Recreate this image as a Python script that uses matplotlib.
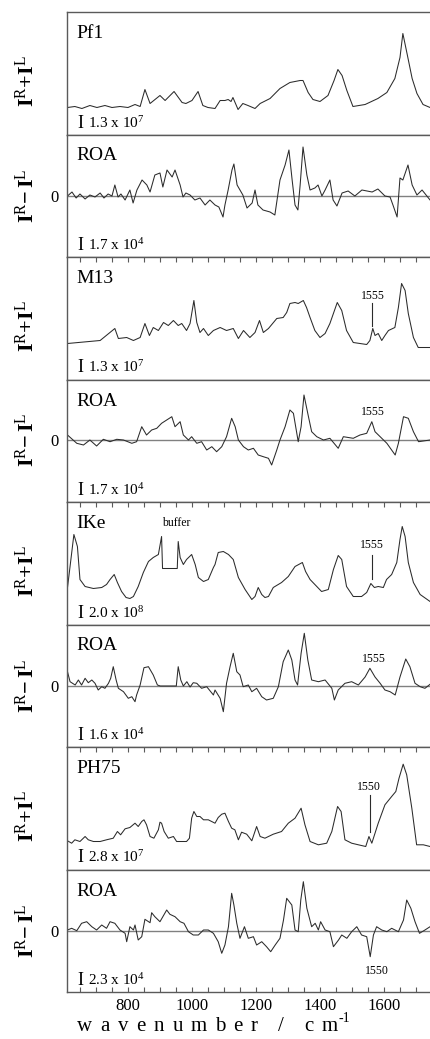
import matplotlib
matplotlib.use('Agg')
import matplotlib.pyplot as plt
from matplotlib.ticker import MultipleLocator, FixedLocator
import matplotlib.transforms as mtrans

plt.rcParams['font.family'] = ['Liberation Serif', 'DejaVu Serif']
plt.rcParams['mathtext.fontset'] = 'custom'
plt.rcParams['mathtext.rm'] = 'Liberation Serif'
plt.rcParams['mathtext.it'] = 'Liberation Serif:italic'
plt.rcParams['mathtext.bf'] = 'Liberation Serif:bold'

# ---------------- data (wavenumber / cm-1, arbitrary intensity) ----------------
pf1_raman_wn = [610, 633, 655, 680, 702, 727, 749, 774, 799, 821, 837, 852, 868, 899, 915, 943, 968,
                980, 999, 1018, 1033, 1049, 1071, 1087, 1102, 1112, 1121, 1127, 1143, 1158, 1174, 1196,
                1212, 1243, 1274, 1305, 1337, 1346, 1362, 1377, 1399, 1424, 1443, 1455, 1468, 1483,
                1502, 1540, 1580, 1608, 1633, 1649, 1658, 1671, 1687, 1702, 1721, 1743]
pf1_raman_int = [27, 28, 26, 29, 27, 29, 27, 28, 27, 30, 28, 45, 31, 39, 34, 43, 32,
                 31, 34, 43, 29, 27, 26, 34, 34, 35, 33, 37, 25, 31, 29, 26,
                 31, 36, 46, 52, 54, 54, 42, 35, 33, 39, 54, 65, 59, 44,
                 28, 30, 36, 42, 56, 77, 101, 81, 56, 41, 30, 27]

pf1_roa_wn = [610, 624, 637, 649, 665, 680, 696, 712, 724, 737, 749, 758, 768, 777, 790, 805, 815,
              827, 843, 858, 868, 883, 899, 908, 921, 937, 946, 962, 971, 980, 993, 1008, 1024,
              1040, 1055, 1071, 1083, 1096, 1102, 1112, 1124, 1130, 1140, 1149, 1158, 1171, 1187,
              1196, 1205, 1221, 1243, 1258, 1274, 1290, 1302, 1312, 1321, 1330, 1337, 1346, 1358,
              1368, 1383, 1393, 1405, 1415, 1430, 1440, 1452, 1468, 1487, 1508, 1530, 1562, 1580,
              1602, 1618, 1627, 1640, 1649, 1658, 1674, 1687, 1702, 1718, 1733, 1743]
pf1_roa_int = [0, 4, -2, 2, -3, 1, -1, 3, -2, 2, 0, 11, -1, 2, -4, 6, -7,
               6, 16, 11, 4, 21, 23, 9, 26, 19, 26, 11, -1, 3, 1, -4, -2,
               -9, -4, -9, -11, -21, -9, 6, 26, 32, 11, 6, 1, -12, -7,
               6, -9, -14, -16, -19, 16, 31, 46, 16, -9, -14, 11, 49, 21,
               6, 8, 11, 0, 6, 16, -4, -10, 3, 5, 0, 6, 4, 7,
               0, -1, -9, -21, 18, 16, 31, 11, 1, 6, 0, -4]

m13_raman_wn = [610, 712, 758, 769, 795, 816, 837, 852, 866, 878, 894, 910, 925, 941, 956, 967, 982,
                993, 1005, 1014, 1024, 1035, 1050, 1066, 1087, 1107, 1128, 1144, 1160, 1180, 1196,
                1210, 1222, 1238, 1264, 1284, 1295, 1305, 1321, 1331, 1347, 1357, 1368, 1383, 1399,
                1415, 1430, 1453, 1467, 1482, 1503, 1524, 1545, 1555, 1564, 1571, 1581, 1592, 1602,
                1613, 1633, 1644, 1654, 1665, 1675, 1691, 1706, 1743]
m13_raman_int = [36, 39, 51, 41, 42, 39, 42, 56, 44, 52, 49, 57, 54, 59, 54, 56, 49,
                 56, 79, 57, 47, 51, 44, 49, 52, 49, 51, 41, 49, 42, 47,
                 59, 47, 51, 61, 62, 67, 76, 77, 76, 79, 72, 62, 49, 42,
                 46, 56, 77, 69, 49, 37, 36, 35, 39, 51, 44, 46, 39, 44,
                 49, 52, 72, 96, 89, 66, 42, 32, 32]

m13_roa_wn = [610, 639, 660, 680, 701, 722, 743, 764, 785, 811, 826, 842, 857, 873, 889, 904, 920,
              936, 946, 962, 972, 988, 998, 1014, 1029, 1045, 1061, 1076, 1092, 1107, 1123, 1134,
              1144, 1160, 1175, 1191, 1206, 1222, 1238, 1248, 1264, 1274, 1290, 1305, 1316, 1331,
              1340, 1349, 1363, 1373, 1389, 1410, 1430, 1456, 1472, 1503, 1524, 1545, 1561, 1571,
              1587, 1608, 1634, 1644, 1660, 1675, 1691, 1707, 1743]
m13_roa_int = [5, -3.3, -5, 0, -6, 0.7, -1.7, 0.7, 0, -3.3, -1.7, 13.3, 5, 10, 11.7, 16.7, 20,
               23.3, 13.3, 18.3, 5, 0, 3.3, -3.3, -1.7, -10, -6.7, -11.7, -6.7, 3.3, 21.7, 13.3,
               0, -6.7, -10, -8.3, -15, -16.7, -18.3, -25, -10, 0, 13.3, 30, 26.7, -1.7,
               13.3, 45, 23.3, 8.3, 3.3, 0, 1.7, -8.3, 3.3, 1.7, 5, 6.7, 18.3, 8.3,
               3.3, -3.3, -15, -3.3, 23.3, 21.7, 8.3, -1.7, 0]

ike_raman_wn = [610, 618, 630, 641, 649, 665, 691, 717, 732, 743, 756, 766, 779, 793, 805, 816, 831,
                847, 863, 878, 894, 904, 907, 953, 956, 962, 972, 982, 998, 1009, 1019, 1035, 1050,
                1066, 1071, 1081, 1097, 1113, 1128, 1144, 1165, 1186, 1196, 1206, 1217, 1227, 1238,
                1253, 1279, 1300, 1321, 1344, 1354, 1368, 1383, 1404, 1425, 1441, 1456, 1467, 1482,
                1503, 1529, 1545, 1558, 1569, 1581, 1597, 1607, 1623, 1639, 1649, 1656, 1665, 1675,
                1691, 1712, 1743]
ike_raman_int = [37, 58, 90, 78, 45, 38, 36, 37, 40, 45, 50, 42, 33, 27, 26, 28, 38,
                 52, 63, 67, 70, 88, 56, 56, 83, 67, 60, 65, 70, 60, 47, 43, 45,
                 57, 60, 72, 73, 70, 65, 47, 35, 25, 28, 37, 30, 27, 28,
                 37, 42, 48, 58, 62, 53, 45, 40, 33, 35, 55, 69, 65, 38,
                 28, 28, 32, 41, 37, 38, 37, 45, 50, 62, 85, 98, 88, 62,
                 42, 30, 23]

ike_roa_wn = [610, 618, 634, 644, 654, 665, 675, 686, 696, 706, 717, 727, 738, 745, 753, 762, 769,
              785, 800, 811, 821, 826, 837, 849, 863, 878, 891, 900, 950, 956, 964, 972, 983, 993,
              1003, 1014, 1029, 1045, 1066, 1071, 1087, 1097, 1107, 1118, 1128, 1139, 1149, 1159,
              1175, 1186, 1201, 1217, 1232, 1253, 1269, 1284, 1300, 1311, 1321, 1329, 1340, 1350,
              1361, 1373, 1394, 1415, 1436, 1444, 1456, 1477, 1498, 1519, 1540, 1555, 1571, 1587,
              1602, 1618, 1634, 1649, 1667, 1680, 1696, 1712, 1727, 1743]
ike_roa_int = [14.3, 4.3, 1, 6, 1, 7.7, 3.3, 6, 2.7, -4, -0.7, -2.3, 2.7, 7.7, 19.3, 6, -2.3,
               -5.7, -12.3, -10.7, -15.7, -9, 1, 18.3, 19.3, 11, 1, 0, 0, 19.3, 6, 0, 4.3, -1,
               3.3, 2.7, -2.3, -0.7, -9, -4, -12.3, -25.7, 2.7, 19.3, 32.7, 14.3, 11, -0.7,
               1, -5.7, -2.3, -10.7, -14, -12.3, -0.7, 24.3, 36, 26, 6, 1, 32.7, 52.7,
               26, 6, 4.3, 6, -2.3, -14, -4, 2.7, 4.3, 1, 9, 17.7, 9, 2.7,
               -4, -5.7, -9, 9, 27, 19.3, 2.7, -0.7, -2.3, 1.7]

ph75_raman_wn = [610, 623, 633, 649, 665, 675, 691, 712, 732, 753, 766, 776, 790, 805, 821, 831, 842,
                 849, 857, 868, 880, 894, 899, 904, 912, 925, 941, 951, 967, 982, 991, 998, 1005,
                 1014, 1024, 1035, 1050, 1071, 1081, 1092, 1102, 1113, 1123, 1133, 1144, 1154, 1170,
                 1186, 1201, 1212, 1227, 1253, 1279, 1300, 1321, 1340, 1352, 1368, 1394, 1420, 1436,
                 1454, 1465, 1477, 1498, 1519, 1542, 1552, 1561, 1571, 1581, 1602, 1623, 1636, 1646,
                 1659, 1670, 1686, 1701, 1722, 1743]
ph75_raman_int = [28.7, 26.3, 29.7, 28, 33, 29.7, 28, 28, 29.7, 31.3, 38, 34.7, 40.7, 42, 46.3, 43, 48,
                  49.7, 44.7, 33, 31.3, 39.7, 47.3, 46.3, 38, 31.3, 33, 28, 28, 28, 31.3, 51.3, 58,
                  53, 53, 49.7, 49.7, 46.3, 52, 55.3, 56.3, 48, 41.3, 39.7, 29.7, 37.3, 35.3,
                  28.7, 43, 33, 31.3, 35.3, 38, 46.3, 51.3, 61.3, 44.7, 28, 24.7, 26.3, 38,
                  63, 58, 29.7, 26.3, 24.7, 23, 33, 26.3, 36.3, 46.3, 64.7, 73, 78, 91.3,
                  105.3, 94.7, 61.3, 24.7, 24.7, 23]

ph75_roa_wn = [610, 623, 639, 654, 670, 686, 701, 717, 732, 743, 758, 774, 790, 795, 805, 816, 821,
               831, 842, 852, 868, 873, 883, 899, 920, 930, 946, 962, 974, 988, 1003, 1019, 1035,
               1050, 1066, 1081, 1092, 1102, 1113, 1123, 1130, 1139, 1149, 1163, 1175, 1191, 1201,
               1217, 1232, 1245, 1259, 1274, 1285, 1295, 1311, 1321, 1331, 1339, 1347, 1358, 1373,
               1384, 1394, 1401, 1415, 1430, 1441, 1457, 1467, 1483, 1498, 1514, 1529, 1545, 1556,
               1566, 1576, 1592, 1608, 1623, 1644, 1660, 1670, 1683, 1696, 1710, 1727, 1743]
ph75_roa_int = [1, 2.7, 0.3, 7.7, 9.3, 4.3, 1, 6, 2.7, 9.3, 7.7, 1, -2.3, -10.7, 4.3, 1, 6,
                -9, -5.7, 11.7, 8.3, 18.3, 14.3, 9.3, 21, 16.7, 14.3, 9.3, 7.7, -0.7, -4, -4, 1,
                1, -2.3, -10.7, -22.3, -14, 4.3, 37.7, 26, 7.7, -7.3, 4.3, -7.3, -5.7, -14,
                -10.7, -15.7, -20.7, -14, -7.3, 11, 32.7, 26, 1, -0.7, 31, 49.3, 22.7, 4.3,
                7.7, 1, 9.3, 1, -0.7, -15.7, -9, -4, -7.3, -0.7, 4.3, -4, -5.7, -25.7,
                -4, 4.3, 1, -0.7, 2.7, -0.7, 11, 31, 22.7, 9.3, -2.3, 1, 4.3]

panel_titles = ['Pf1', 'ROA', 'M13', 'ROA', 'IKe', 'ROA', 'PH75', 'ROA']
scale_mant = ['1.3', '1.7', '1.3', '1.7', '2.0', '1.6', '2.8', '2.3']
scale_exp = ['7', '4', '7', '4', '8', '4', '7', '4']
x_major = [800, 1000, 1200, 1400, 1600]

series = [(pf1_raman_wn, pf1_raman_int), (pf1_roa_wn, pf1_roa_int),
          (m13_raman_wn, m13_raman_int), (m13_roa_wn, m13_roa_int),
          (ike_raman_wn, ike_raman_int), (ike_roa_wn, ike_roa_int),
          (ph75_raman_wn, ph75_raman_int), (ph75_roa_wn, ph75_roa_int)]

# ---------------- layout ----------------
W, H = 430, 1039
fig = plt.figure(figsize=(W / 100, H / 100), dpi=100)
left_px, top0, ph = 67.3, 12.0, 122.5
roa_ylim = [(-61, 61.5), (-62, 60.5), (-61, 61.5), (-61, 61.5)]
line_col = '#2b2b2b'
spine_col = '#5a5a5a'
axes = []
for i, (wn, val) in enumerate(series):
    top = top0 + ph * i
    ax = fig.add_axes([left_px / W, 1 - (top + ph) / H, (W - left_px) / W, ph / H])
    axes.append(ax)
    is_roa = (i % 2 == 1)
    ax.plot(wn, val, color=line_col, lw=0.75)
    ax.set_xlim(609.4, 1742.8)
    if is_roa:
        ax.set_ylim(*roa_ylim[i // 2])
        ax.axhline(0, color='#808080', lw=1.0, zorder=0)
        ax.set_yticks([0])
        ax.set_yticklabels(['0'])
        ax.tick_params(axis='y', length=0, pad=6, labelsize=12)
        ylab = r'$\mathbf{I}^{\mathrm{R}}\mathbf{-}\,\mathbf{I}^{\mathrm{L}}$'
        tr = mtrans.blended_transform_factory(ax.transAxes, ax.transData)
        ax.text(-0.11, 0, ylab, rotation=90, ha='center', va='center', fontsize=16,
                transform=tr)
    else:
        ax.set_ylim(0, 122.5)
        ax.set_yticks([])
        ylab = r'$\mathbf{I}^{\mathrm{R}}\mathbf{+}\mathbf{I}^{\mathrm{L}}$'
        ax.text(-0.11, 0.435, ylab, rotation=90, ha='center', va='center', fontsize=16,
                transform=ax.transAxes)
    for s in ['left', 'top', 'bottom']:
        ax.spines[s].set_color(spine_col)
        ax.spines[s].set_linewidth(1.0)
    ax.spines['right'].set_visible(False)
    # x ticks
    ax.xaxis.set_major_locator(FixedLocator(x_major))
    ax.xaxis.set_minor_locator(MultipleLocator(50))
    if i == 7:
        ax.tick_params(axis='x', which='both', direction='in', length=3.5, width=0.8,
                       color=spine_col, labelsize=12, pad=4, top=False, bottom=True)
    elif (not is_roa) and i > 0:
        ax.tick_params(axis='x', which='both', direction='in', length=3.5, width=0.8,
                       color=spine_col, top=True, bottom=False, labeltop=False, labelbottom=False)
    else:
        ax.tick_params(axis='x', which='both', length=0, labelbottom=False)
    # title
    ax.text(0.024, 1 - 26 / ph, panel_titles[i], fontsize=14, va='baseline', ha='left',
            transform=ax.transAxes)
    # scale bar
    ax.text(0.028, 7 / ph, 'I', fontsize=13, va='baseline', ha='left', transform=ax.transAxes)
    ax.text(0.057, 7 / ph, r'$\mathregular{%s\ x\ 10^{%s}}$' % (scale_mant[i], scale_exp[i]),
            fontsize=11, va='baseline', ha='left', transform=ax.transAxes)

# annotations
ann_fs = 8.5
ax = axes[2]
ax.plot([1563, 1563], [54, 77], color=line_col, lw=0.8)
ax.text(1565, 81, '1555', ha='center', va='baseline', fontsize=ann_fs)
ax = axes[3]
ax.text(1565, 25, '1555', ha='center', va='baseline', fontsize=ann_fs)
ax = axes[4]
ax.plot([1560, 1560], [46, 70], color=line_col, lw=0.8)
ax.text(1562, 76, '1555', ha='center', va='baseline', fontsize=ann_fs)
ax.text(951, 99, 'buffer', ha='center', va='baseline', fontsize=ann_fs)
ax = axes[5]
ax.text(1568, 24, '1555', ha='center', va='baseline', fontsize=ann_fs)
ax = axes[6]
ax.plot([1555, 1555], [38, 75], color=line_col, lw=0.8)
ax.text(1552, 80, '1550', ha='center', va='baseline', fontsize=ann_fs)
ax = axes[7]
ax.text(1576, -43, '1550', ha='center', va='baseline', fontsize=ann_fs)

# letter-spaced x label
renderer = fig.canvas.get_renderer()
label = 'wavenumber / cm'
fs = 15
x0, x1, base_y = 77.0, 338.0, 1031.0
texts = []
widths = []
space_w = 0.2 * fs * 100 / 72
for ch in label:
    if ch == ' ':
        texts.append(None)
        widths.append(space_w)
    else:
        t = fig.text(0, 0, ch, fontsize=fs, va='baseline', ha='left')
        widths.append(t.get_window_extent(renderer).width)
        texts.append(t)
gap = (x1 - x0 - sum(widths)) / (len(label) - 1)
x = x0
for t, w in zip(texts, widths):
    if t is not None:
        t.set_position((x / W, 1 - base_y / H))
    x += w + gap
fig.text((x - gap + 1) / W, 1 - (base_y - 9) / H, '-1', fontsize=10, va='baseline', ha='left')

fig.savefig('out.png', dpi=100)
